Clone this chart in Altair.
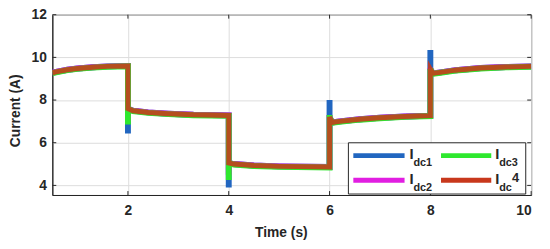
import altair as alt
import pandas as pd

# ---- data ----
times = [0.5, 0.6, 0.8, 1.0, 1.3, 1.6, 2.0, 2.0, 2.0, 2.1, 2.4, 2.8, 3.3,
         4.0, 4.0, 4.0, 4.1, 4.5, 5.0, 6.0, 6.0, 6.0, 6.05, 6.2, 6.6, 7.0, 7.5,
         8.0, 8.0, 8.0, 8.05, 8.2, 8.5, 9.0, 9.5, 10.0]

idc1 = [9.28, 9.33, 9.42, 9.48, 9.54, 9.58, 9.6, 6.43, 7.6, 7.5, 7.42, 7.36, 7.31,
        7.28, 3.9, 5.05, 5.0, 4.93, 4.89, 4.86, 8.0, 7.2, 6.95, 7.0, 7.1, 7.17, 7.23,
        7.27, 10.35, 9.45, 9.25, 9.3, 9.4, 9.5, 9.55, 9.58]
idc2 = [9.28, 9.33, 9.42, 9.48, 9.54, 9.58, 9.6, 7.0, 7.6, 7.5, 7.42, 7.36, 7.31,
        7.28, 4.5, 5.05, 5.0, 4.93, 4.89, 4.86, 7.3, 7.2, 6.95, 7.0, 7.1, 7.17, 7.23,
        7.27, 9.5, 9.45, 9.25, 9.3, 9.4, 9.5, 9.55, 9.58]
idc3 = [9.26, 9.31, 9.40, 9.46, 9.52, 9.56, 9.58, 6.85, 7.6, 7.48, 7.40, 7.34, 7.29,
        7.26, 4.25, 5.05, 4.98, 4.91, 4.87, 4.84, 7.3, 7.2, 6.93, 6.98, 7.08, 7.15, 7.21,
        7.25, 9.45, 9.45, 9.23, 9.28, 9.38, 9.48, 9.53, 9.56]
idc4 = [9.28, 9.33, 9.42, 9.48, 9.54, 9.58, 9.6, 7.6, 7.6, 7.5, 7.42, 7.36, 7.31,
        7.28, 5.05, 5.05, 5.0, 4.93, 4.89, 4.86, 7.2, 7.2, 6.95, 7.0, 7.1, 7.17, 7.23,
        7.27, 9.45, 9.45, 9.25, 9.3, 9.4, 9.5, 9.55, 9.58]

x_ticks = [2, 4, 6, 8, 10]
y_ticks = [4, 6, 8, 10, 12]

series_names = ["Idc1", "Idc2", "Idc3", "Idc4"]
series_colors = ["#2166c0", "#e11ee1", "#2ee82e", "#c8381c"]

# ---- layout ----
W, H = 486, 183
FONT = "Liberation Sans"
DARK = "#262626"

xscale = alt.Scale(domain=[0.5, 10], nice=False, zero=False)
yscale = alt.Scale(domain=[3.55, 12], nice=False, zero=False)

xaxis = alt.Axis(values=x_ticks, grid=True, gridColor="#dcdcdc", domainColor=DARK,
                 tickSize=0, labelFont=FONT, labelFontSize=14, labelFontWeight="bold",
                 labelColor=DARK, labelPadding=9, title="Time (s)", titleFont=FONT,
                 titleFontSize=14, titleFontWeight="bold", titleColor=DARK,
                 titleX=232, titleY=38, titleBaseline="middle")
yaxis = alt.Axis(values=y_ticks, grid=True, gridColor="#dcdcdc", domainColor=DARK,
                 tickSize=0, labelFont=FONT, labelFontSize=14, labelFontWeight="bold",
                 labelColor=DARK, labelPadding=6, title="Current (A)", titleFont=FONT,
                 titleFontSize=14, titleFontWeight="bold", titleColor=DARK,
                 titleX=-37, titleY=97, titleBaseline="middle", titleAlign="center")

layers = []
vals_list = [idc1, idc2, idc3, idc4]
widths = [6, 6, 6, 5]
opac = [1, 1, 1, 0.88]
for name, vals, col, w, o in zip(series_names, vals_list, series_colors, widths, opac):
    df = pd.DataFrame({"t": times, "v": vals, "i": list(range(len(times)))})
    layers.append(
        alt.Chart(df).mark_line(color=col, strokeWidth=w, opacity=o, clip=True,
                                strokeJoin="miter")
        .encode(x=alt.X("t:Q", scale=xscale, axis=xaxis),
                y=alt.Y("v:Q", scale=yscale, axis=yaxis),
                order="i:Q")
    )

# inward ticks on all four sides
xt = pd.DataFrame({"t": x_ticks})
yt = pd.DataFrame({"v": y_ticks})
tick_style = dict(color=DARK, strokeWidth=1)
layers.append(alt.Chart(xt).mark_rule(**tick_style).encode(
    x=alt.X("t:Q", scale=xscale), y=alt.value(H), y2=alt.value(H - 4)))
layers.append(alt.Chart(xt).mark_rule(**tick_style).encode(
    x=alt.X("t:Q", scale=xscale), y=alt.value(0), y2=alt.value(4)))
layers.append(alt.Chart(yt).mark_rule(**tick_style).encode(
    y=alt.Y("v:Q", scale=yscale), x=alt.value(0), x2=alt.value(4)))
layers.append(alt.Chart(yt).mark_rule(**tick_style).encode(
    y=alt.Y("v:Q", scale=yscale), x=alt.value(W), x2=alt.value(W - 4)))

# ---- legend (manual, to allow subscripts) ----
one = alt.Data(values=[{"a": 1}])
lx0, lx1, ly0, ly1 = 300.5, 480.5, 130, 182
layers.append(alt.Chart(one).mark_rect(fill="white", stroke=DARK, strokeWidth=1).encode(
    x=alt.value(lx0), x2=alt.value(lx1), y=alt.value(ly0), y2=alt.value(ly1)))

entries = [
    (series_colors[0], 305.5, 357.5, 143, 362.5, "dc1", None),
    (series_colors[1], 305.5, 357.5, 168, 362.5, "dc2", None),
    (series_colors[2], 394.5, 445.5, 143, 449.5, "dc3", None),
    (series_colors[3], 394.5, 445.5, 168, 449.5, "dc", "4"),
]
for col, x0, x1, ry, ix, sub, extra in entries:
    layers.append(alt.Chart(one).mark_rule(color=col, strokeWidth=5).encode(
        x=alt.value(x0), x2=alt.value(x1), y=alt.value(ry)))
    layers.append(alt.Chart(one).mark_text(text="I", font=FONT, fontSize=15,
                                           fontWeight="bold", color=DARK, align="left",
                                           baseline="middle").encode(
        x=alt.value(ix), y=alt.value(ry - 1.5)))
    layers.append(alt.Chart(one).mark_text(text=sub, font=FONT, fontSize=11,
                                           fontWeight="bold", color=DARK, align="left",
                                           baseline="middle").encode(
        x=alt.value(ix + 4), y=alt.value(ry + 7.5)))
    if extra:
        layers.append(alt.Chart(one).mark_text(text=extra, font=FONT, fontSize=13,
                                               fontWeight="bold", color=DARK, align="left",
                                               baseline="middle").encode(
            x=alt.value(ix + 17), y=alt.value(ry - 2)))

chart = alt.layer(*layers).properties(
    width=W, height=H,
    autosize=alt.AutoSizeParams(type="none"),
    padding={"left": 45, "top": 5, "right": 11, "bottom": 53},
).configure_view(stroke=DARK, strokeWidth=1)

chart.save("out.html", embed_options={"renderer": "svg", "actions": False})
